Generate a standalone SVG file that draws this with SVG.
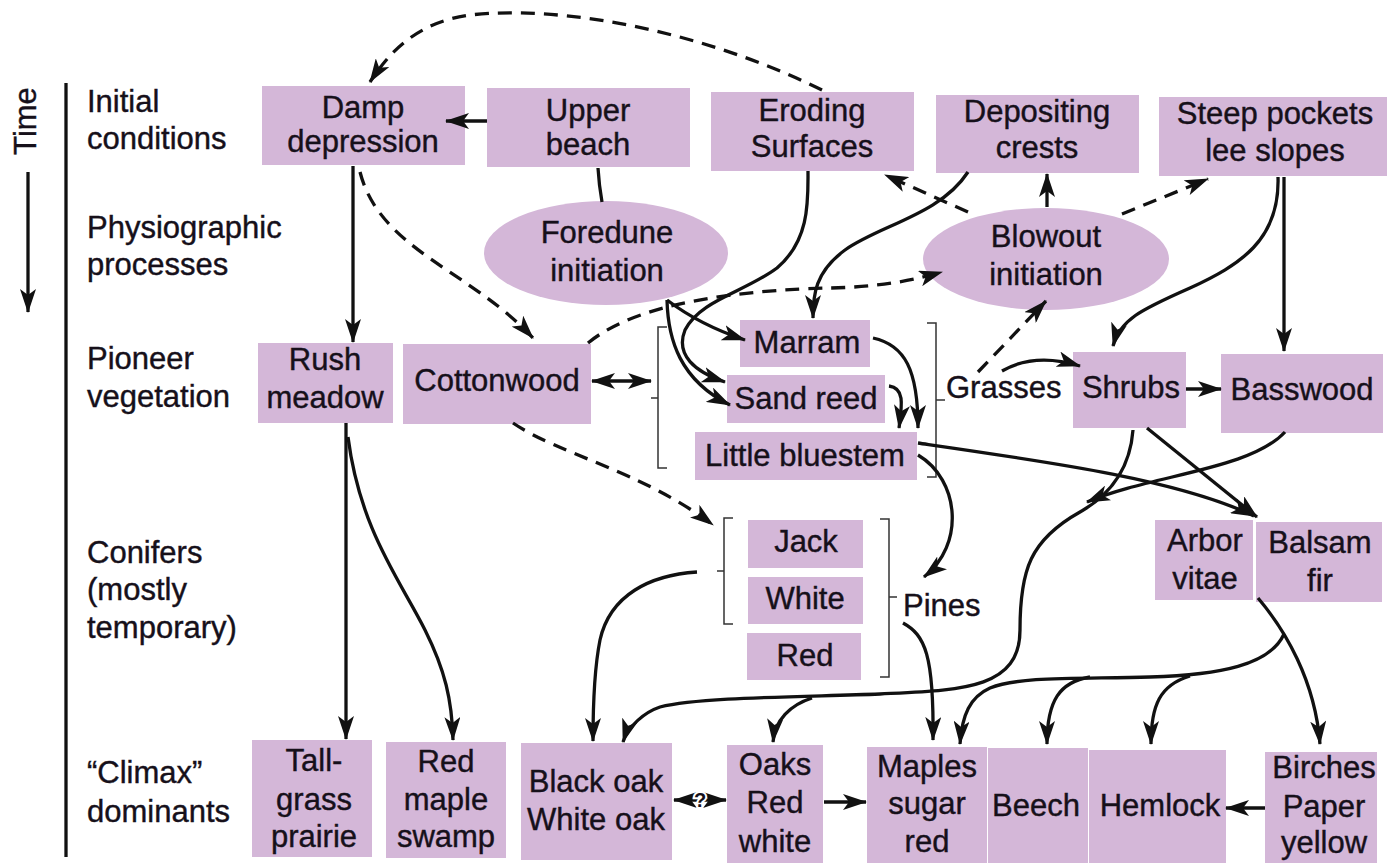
<svg xmlns="http://www.w3.org/2000/svg" width="1387" height="867" viewBox="0 0 1387 867">
<defs>
<marker id="ah" viewBox="0 0 24 16" refX="23" refY="8" markerWidth="24" markerHeight="16" markerUnits="userSpaceOnUse" orient="auto-start-reverse">
<path d="M0,0 L24,8 L0,16 L6,8 Z" fill="#111"/>
</marker>
<style>
text{font-family:"Liberation Sans",Arial,Helvetica,sans-serif;font-size:31px;fill:#16101a;stroke:#16101a;stroke-width:0.4}
.c{text-anchor:middle}
.box{fill:#d4b7d8}
.ln{fill:none;stroke:#111;stroke-width:3.3;stroke-linecap:butt}
.a{marker-end:url(#ah)}
.d{stroke-dasharray:14 9}
.br{fill:none;stroke:#333;stroke-width:1.5}
</style>
</defs>
<rect width="1387" height="867" fill="#fff"/>

<g id="axis">
<text class="c" transform="translate(36,121) rotate(-90)">Time</text>
<path class="ln a" d="M28 172 L28 312"/>
<path class="ln" d="M66 83 L66 857"/>
<text x="87" y="112">Initial</text>
<text x="87" y="149">conditions</text>
<text x="87" y="238">Physiographic</text>
<text x="87" y="275">processes</text>
<text x="87" y="369">Pioneer</text>
<text x="87" y="407">vegetation</text>
<text x="87" y="563">Conifers</text>
<text x="87" y="600">(mostly</text>
<text x="87" y="638">temporary)</text>
<text x="87" y="783">“Climax”</text>
<text x="87" y="822">dominants</text>
</g>

<g id="damp"><rect class="box" x="262" y="86" width="203" height="79"/><text class="c" x="363" y="118">Damp</text><text class="c" x="363" y="152">depression</text></g>
<g id="upper"><rect class="box" x="487" y="88" width="203" height="79"/><text class="c" x="588" y="121">Upper</text><text class="c" x="588" y="155">beach</text></g>
<g id="eroding"><rect class="box" x="711" y="92" width="203" height="79"/><text class="c" x="812" y="121">Eroding</text><text class="c" x="812" y="157">Surfaces</text></g>
<g id="depositing"><rect class="box" x="936" y="95" width="203" height="78"/><text class="c" x="1037" y="122">Depositing</text><text class="c" x="1037" y="158">crests</text></g>
<g id="steep"><rect class="box" x="1159" y="97" width="228" height="79"/><text class="c" x="1275" y="124">Steep pockets</text><text class="c" x="1275" y="161">lee slopes</text></g>

<g id="foredune"><ellipse class="box" cx="606" cy="253" rx="122" ry="52"/><text class="c" x="607" y="243">Foredune</text><text class="c" x="607" y="281">initiation</text></g>
<g id="blowout"><ellipse class="box" cx="1046" cy="259" rx="123" ry="51"/><text class="c" x="1046" y="247">Blowout</text><text class="c" x="1046" y="285">initiation</text></g>

<g id="rush"><rect class="box" x="258" y="343" width="135" height="80"/><text class="c" x="325" y="370">Rush</text><text class="c" x="325" y="408">meadow</text></g>
<g id="cottonwood"><rect class="box" x="403" y="344" width="188" height="80"/><text class="c" x="497" y="391">Cottonwood</text></g>
<g id="marram"><rect class="box" x="740" y="320" width="130" height="47"/><text class="c" x="807" y="353">Marram</text></g>
<g id="sandreed"><rect class="box" x="727" y="375" width="158" height="48"/><text class="c" x="806" y="409">Sand reed</text></g>
<g id="bluestem"><rect class="box" x="695" y="432" width="222" height="48"/><text class="c" x="805" y="466">Little bluestem</text></g>
<g id="grasses">
<path class="br" d="M667 327 L658 327 L658 468 L667 468 M651 398 L658 398"/>
<path class="br" d="M927 323 L936 323 L936 477 L927 477 M936 400 L945 400"/>
<text x="946" y="398">Grasses</text>
</g>
<g id="shrubs"><rect class="box" x="1073" y="352" width="113" height="76"/><text class="c" x="1131" y="398">Shrubs</text></g>
<g id="basswood"><rect class="box" x="1221" y="354" width="162" height="79"/><text class="c" x="1302" y="400">Basswood</text></g>

<g id="jack"><rect class="box" x="748" y="520" width="115" height="48"/><text class="c" x="806" y="552">Jack</text></g>
<g id="white"><rect class="box" x="748" y="577" width="115" height="47"/><text class="c" x="805" y="609">White</text></g>
<g id="red"><rect class="box" x="747" y="633" width="114" height="47"/><text class="c" x="805" y="666">Red</text></g>
<g id="pines">
<path class="br" d="M733 518 L724 518 L724 624 L733 624 M717 571 L724 571"/>
<path class="br" d="M880 519 L889 519 L889 677 L880 677 M889 597 L897 597"/>
<text x="903" y="616">Pines</text>
</g>
<g id="arbor"><rect class="box" x="1155" y="520" width="98" height="80"/><text class="c" x="1205" y="551">Arbor</text><text class="c" x="1205" y="589">vitae</text></g>
<g id="balsam"><rect class="box" x="1256" y="522" width="126" height="80"/><text class="c" x="1320" y="553">Balsam</text><text class="c" x="1320" y="591">fir</text></g>

<g id="tallgrass"><rect class="box" x="252" y="740" width="120" height="117"/><text class="c" x="314" y="771">Tall-</text><text class="c" x="314" y="810">grass</text><text class="c" x="314" y="847">prairie</text></g>
<g id="redmaple"><rect class="box" x="386" y="742" width="120" height="116"/><text class="c" x="446" y="772">Red</text><text class="c" x="446" y="810">maple</text><text class="c" x="446" y="847">swamp</text></g>
<g id="blackoak"><rect class="box" x="521" y="743" width="151" height="117"/><text class="c" x="596" y="792">Black oak</text><text class="c" x="596" y="830">White oak</text></g>
<g id="oaks"><rect class="box" x="727" y="745" width="96" height="118"/><text class="c" x="775" y="775">Oaks</text><text class="c" x="775" y="813">Red</text><text class="c" x="775" y="852">white</text></g>
<g id="maples"><rect class="box" x="867" y="747" width="120" height="116"/><text class="c" x="927" y="777">Maples</text><text class="c" x="927" y="814">sugar</text><text class="c" x="927" y="852">red</text></g>
<g id="beech"><rect class="box" x="988" y="748" width="100" height="115"/><text class="c" x="1036" y="816">Beech</text></g>
<g id="hemlock"><rect class="box" x="1089" y="750" width="137" height="113"/><text class="c" x="1160" y="816">Hemlock</text></g>
<g id="birches"><rect class="box" x="1265" y="752" width="112" height="111"/><text class="c" x="1324" y="778">Birches</text><text class="c" x="1324" y="817">Paper</text><text class="c" x="1324" y="853">yellow</text></g>

<g id="connectors">
<path class="ln a" d="M487 121 L446 121"/>
<path class="ln" d="M598 168 Q599 185 602 202"/>
<path class="ln a d" d="M822 90 C700 30 560 5 470 15 C420 22 392 48 370 82"/>
<path class="ln a" d="M353 166 L353 342"/>
<path class="ln a d" d="M360 172 C380 250 470 270 533 338"/>
<path class="ln a d" d="M588 343 C640 300 750 290 830 288 C880 287 915 280 942 272"/>
<path class="ln a" d="M808 171 C808 200 810 240 777 268 C745 292 700 300 685 330 C675 355 695 372 725 382"/>
<path class="ln a" d="M667 300 Q700 325 745 340"/>
<path class="ln a" d="M667 300 C668 340 680 380 730 405"/>
<path class="ln a" d="M968 172 C940 215 880 225 845 250 C815 272 813 295 813 318"/>
<path class="ln a d" d="M968 212 L885 175"/>
<path class="ln a" d="M1047 207 L1047 174"/>
<path class="ln a d" d="M1122 214 L1208 179"/>
<path class="ln a d" d="M978 372 L1046 301"/>
<path class="ln a" d="M1002 371 Q1035 352 1080 366"/>
<path class="ln a" d="M1278 177 C1280 240 1240 265 1190 288 C1140 310 1120 320 1113 346"/>
<path class="ln a" d="M1284 177 L1284 351"/>
<path class="ln a" d="M1186 389 L1221 389"/>
<path class="ln a" d="M873 338 C905 345 918 370 918 428"/>
<path class="ln a" d="M889 386 C905 388 902 405 899 428"/>
<path class="ln a" d="M918 443 C1050 462 1180 480 1254 516"/>
<path class="ln a" d="M1147 428 L1257 517"/>
<path class="ln a" d="M918 455 C960 480 965 545 924 577"/>
<path class="ln a" d="M1285 432 C1250 470 1150 475 1087 502"/>
<path class="ln a" d="M1133 430 C1130 470 1110 495 1080 512 C1030 540 1020 570 1020 630 C1020 690 960 690 880 694 C800 697 700 697 660 707 C645 712 628 726 623 742"/>
<path class="ln a" d="M812 698 C790 705 775 720 773 742"/>
<path class="ln a" d="M697 572 C650 575 610 595 600 640 C594 670 593 710 593 741"/>
<path class="ln a" d="M903 623 C925 635 934 655 933 740"/>
<path class="ln a" d="M1258 598 C1285 630 1315 680 1320 744"/>
<path class="ln a" d="M1284 634 C1270 665 1220 675 1150 677 C1080 679 1020 676 990 688 C970 697 962 715 960 744"/>
<path class="ln a" d="M1090 677 C1060 682 1047 700 1047 744"/>
<path class="ln a" d="M1190 676 C1160 685 1151 705 1151 744"/>
<path class="ln a" d="M824 802 L866 802"/>
<path class="ln a" d="M1265 808 L1226 808"/>
<path class="ln a" d="M674 800 L726 800" marker-start="url(#ah)"/>
<path class="ln a" d="M592 381 L651 381" marker-start="url(#ah)"/>
<path class="ln a d" d="M513 423 C560 455 640 470 713 525"/>
<path class="ln a" d="M346 423 L346 739"/>
<path class="ln a" d="M348 437 C360 530 400 580 425 630 C445 670 452 700 453 740"/>
<text class="c" x="700" y="807" style="font-size:20px;font-weight:bold;stroke:#fff;stroke-width:4;paint-order:stroke">?</text>
</g>
</svg>
